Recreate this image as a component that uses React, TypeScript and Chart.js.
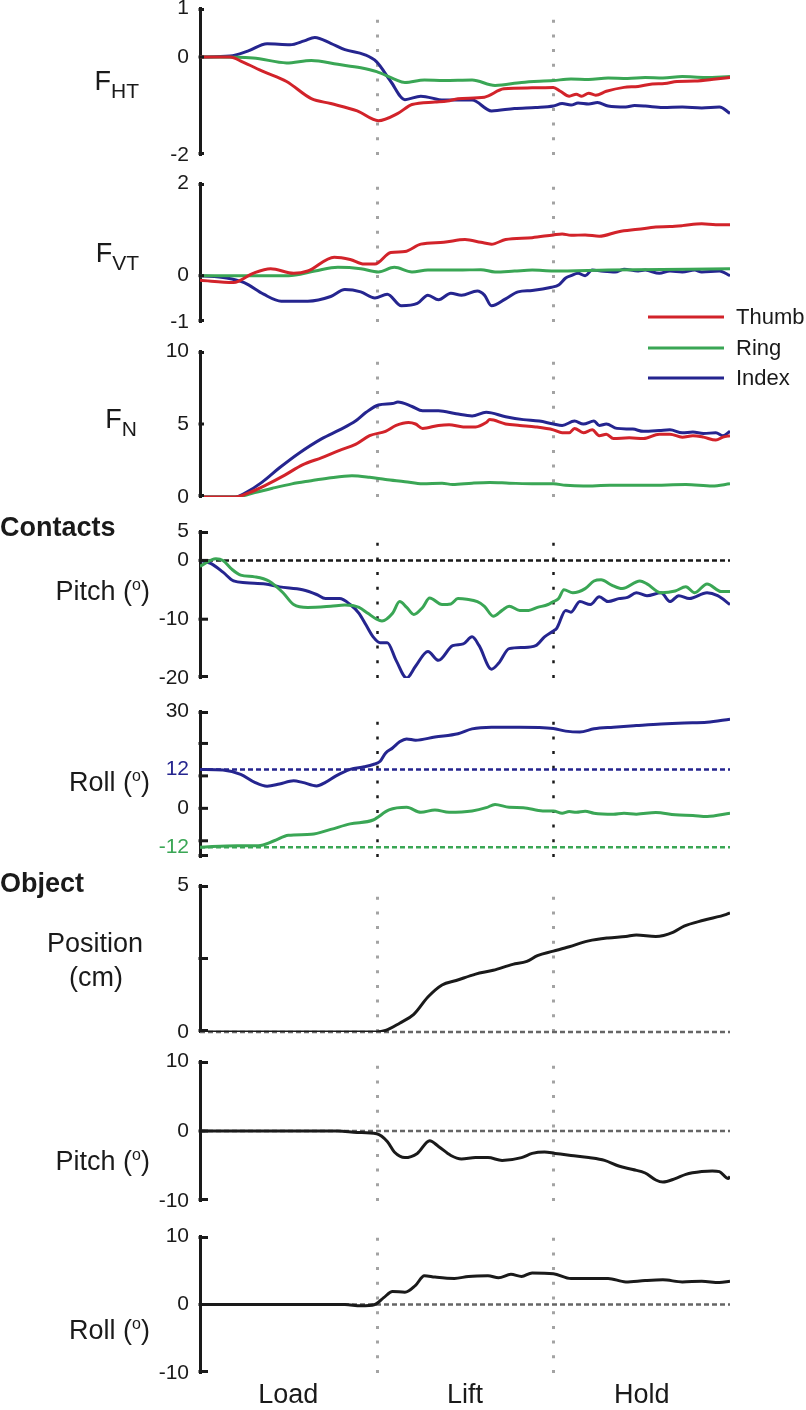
import React, { useEffect, useRef } from 'react';
import { Chart, registerables } from 'chart.js';

Chart.register(...registerables);

type P = [number, number];

// ---------- data (time in phase units: 0..3, Load | Lift | Hold) ----------
const PHASES = ['Load', 'Lift', 'Hold'];
const PHASE_CENTERS = [0.5, 1.5, 2.5];
const PHASE_BOUNDS = [1, 2];
const LEGEND_LABELS = ['Thumb', 'Ring', 'Index'];

const FHT_THUMB: P[] = [[0,0],[0.17,0],[0.24,-0.1],[0.36,-0.3],[0.49,-0.5],[0.63,-0.85],[0.74,-0.95],[0.89,-1.1],[1.01,-1.3],[1.12,-1.15],[1.2,-0.97],[1.33,-0.92],[1.4,-0.9],[1.46,-0.85],[1.61,-0.82],[1.72,-0.65],[1.88,-0.63],[2.0,-0.62],[2.04,-0.7],[2.09,-0.8],[2.13,-0.76],[2.16,-0.8],[2.2,-0.74],[2.24,-0.78],[2.3,-0.7],[2.4,-0.62],[2.48,-0.6],[2.56,-0.55],[2.63,-0.54],[2.7,-0.5],[2.8,-0.49],[2.92,-0.45],[3.0,-0.42]];
const FHT_RING: P[] = [[0,0],[0.3,-0.02],[0.49,-0.12],[0.63,-0.07],[0.78,-0.15],[0.91,-0.22],[1.0,-0.3],[1.1,-0.45],[1.16,-0.52],[1.27,-0.47],[1.38,-0.48],[1.54,-0.47],[1.67,-0.58],[1.82,-0.52],[2.0,-0.48],[2.1,-0.45],[2.2,-0.46],[2.31,-0.43],[2.42,-0.44],[2.52,-0.42],[2.62,-0.43],[2.73,-0.4],[2.86,-0.42],[3.0,-0.4]];
const FHT_INDEX: P[] = [[0,0],[0.17,0.02],[0.27,0.12],[0.38,0.27],[0.51,0.25],[0.59,0.33],[0.65,0.4],[0.74,0.28],[0.82,0.15],[0.93,0.05],[1.0,-0.1],[1.08,-0.5],[1.16,-0.87],[1.25,-0.8],[1.38,-0.88],[1.54,-0.88],[1.65,-1.1],[1.78,-1.05],[1.9,-1.03],[2.0,-1.0],[2.05,-0.95],[2.1,-0.98],[2.14,-0.94],[2.2,-0.96],[2.25,-0.93],[2.31,-1.0],[2.41,-1.02],[2.46,-0.99],[2.52,-1.0],[2.62,-1.03],[2.73,-1.02],[2.84,-1.04],[2.94,-1.02],[3.0,-1.15]];

const FVT_THUMB: P[] = [[0,-0.1],[0.19,-0.15],[0.3,0.05],[0.4,0.15],[0.53,0.05],[0.61,0.1],[0.76,0.4],[0.85,0.35],[0.93,0.25],[0.99,0.25],[1.08,0.5],[1.16,0.52],[1.25,0.68],[1.38,0.72],[1.5,0.78],[1.59,0.72],[1.65,0.68],[1.73,0.78],[1.88,0.82],[2.0,0.88],[2.05,0.9],[2.1,0.87],[2.18,0.88],[2.26,0.85],[2.37,0.95],[2.48,1.0],[2.58,1.05],[2.66,1.06],[2.73,1.08],[2.84,1.12],[2.92,1.1],[3.0,1.1]];
const FVT_RING: P[] = [[0,0],[0.5,0],[0.65,0.1],[0.78,0.18],[0.91,0.15],[1.01,0.08],[1.1,0.18],[1.2,0.08],[1.29,0.12],[1.46,0.12],[1.59,0.13],[1.67,0.08],[1.78,0.1],[1.88,0.12],[2.0,0.1],[2.31,0.12],[3.0,0.15]];
const FVT_INDEX: P[] = [[0,0],[0.15,-0.05],[0.25,-0.15],[0.36,-0.4],[0.46,-0.55],[0.61,-0.55],[0.74,-0.45],[0.82,-0.3],[0.91,-0.35],[0.99,-0.48],[1.06,-0.4],[1.14,-0.65],[1.23,-0.6],[1.29,-0.42],[1.35,-0.52],[1.42,-0.38],[1.48,-0.42],[1.57,-0.33],[1.61,-0.42],[1.65,-0.65],[1.73,-0.5],[1.8,-0.35],[1.88,-0.32],[1.99,-0.25],[2.03,-0.2],[2.07,-0.05],[2.1,0.0],[2.14,0.05],[2.18,0.0],[2.22,0.12],[2.27,0.1],[2.35,0.08],[2.4,0.14],[2.48,0.1],[2.52,0.12],[2.6,0.05],[2.66,0.1],[2.73,0.08],[2.8,0.12],[2.84,0.08],[2.94,0.1],[3.0,0.0]];

const FN_THUMB: P[] = [[0,0],[0.2,0],[0.28,0.3],[0.37,0.8],[0.48,1.5],[0.58,2.2],[0.69,2.7],[0.79,3.2],[0.88,3.6],[0.96,4.2],[1.05,4.5],[1.11,4.9],[1.18,5.1],[1.22,5.0],[1.26,4.7],[1.35,4.9],[1.41,4.95],[1.49,4.8],[1.56,4.8],[1.62,5.1],[1.64,5.3],[1.73,5.0],[1.81,4.9],[1.9,4.8],[2.0,4.6],[2.05,4.4],[2.09,4.4],[2.12,4.7],[2.17,4.4],[2.22,4.6],[2.26,4.2],[2.3,4.3],[2.34,4.0],[2.43,4.05],[2.51,4.0],[2.6,4.3],[2.66,4.3],[2.73,4.1],[2.79,4.2],[2.85,4.1],[2.92,3.9],[2.96,4.1],[3.0,4.2]];
const FN_RING: P[] = [[0,0],[0.2,0],[0.31,0.3],[0.41,0.6],[0.52,0.9],[0.62,1.1],[0.73,1.3],[0.86,1.45],[0.96,1.35],[1.05,1.2],[1.16,1.05],[1.26,0.9],[1.37,0.95],[1.43,0.85],[1.54,0.95],[1.64,1.0],[1.75,0.95],[1.9,0.9],[2.0,0.9],[2.07,0.8],[2.17,0.75],[2.32,0.8],[2.54,0.8],[2.75,0.85],[2.9,0.75],[3.0,0.9]];
const FN_INDEX: P[] = [[0,0],[0.2,0],[0.26,0.3],[0.35,1.0],[0.45,2.0],[0.56,3.0],[0.69,4.0],[0.79,4.6],[0.88,5.2],[0.94,5.8],[1.01,6.3],[1.09,6.4],[1.12,6.5],[1.2,6.2],[1.26,5.9],[1.35,5.9],[1.45,5.7],[1.54,5.55],[1.62,5.8],[1.73,5.5],[1.83,5.3],[1.92,5.2],[2.0,5.0],[2.05,4.9],[2.12,5.2],[2.17,5.0],[2.23,5.2],[2.26,4.9],[2.3,5.0],[2.36,4.7],[2.45,4.65],[2.51,4.5],[2.6,4.55],[2.66,4.6],[2.73,4.4],[2.79,4.45],[2.85,4.35],[2.92,4.4],[2.96,4.2],[3.0,4.5]];

const CPITCH_RING: P[] = [[0,-1],[0.09,0.3],[0.13,0],[0.18,-1.5],[0.23,-2.5],[0.31,-2.8],[0.39,-3.5],[0.47,-5.5],[0.53,-7.5],[0.61,-8],[0.74,-7.8],[0.82,-7.6],[0.9,-8],[0.95,-9],[1.0,-10],[1.03,-10.3],[1.09,-9],[1.13,-7],[1.17,-8],[1.21,-9.2],[1.26,-8],[1.3,-6.4],[1.37,-7.5],[1.42,-7.4],[1.46,-6.5],[1.51,-6.6],[1.57,-7],[1.61,-7.8],[1.66,-9.5],[1.71,-8.5],[1.75,-7.8],[1.81,-8.5],[1.86,-8.5],[1.91,-8],[1.97,-7.5],[2.0,-7],[2.03,-6.5],[2.06,-5],[2.11,-5.5],[2.18,-4.8],[2.23,-3.5],[2.27,-3.3],[2.33,-4.2],[2.39,-4.8],[2.49,-3.5],[2.53,-4],[2.61,-5.5],[2.69,-5.2],[2.75,-4.5],[2.8,-5.5],[2.87,-4],[2.95,-5.3],[3.0,-5.3]];
const CPITCH_INDEX: P[] = [[0,0],[0.06,-0.5],[0.13,-2],[0.19,-3.5],[0.26,-3.8],[0.37,-4],[0.45,-4.5],[0.58,-5],[0.66,-5.8],[0.71,-6.5],[0.79,-6.5],[0.85,-7.5],[0.9,-9],[0.94,-11],[0.98,-13],[1.02,-14],[1.06,-14],[1.11,-17],[1.17,-20],[1.22,-18],[1.29,-15.5],[1.35,-17],[1.43,-14.5],[1.49,-14.2],[1.54,-13],[1.58,-14.5],[1.65,-18.5],[1.69,-17.5],[1.75,-15],[1.83,-14.8],[1.9,-14.5],[1.95,-13],[2.0,-12],[2.02,-11.5],[2.07,-8.5],[2.1,-8.8],[2.15,-7],[2.21,-7.5],[2.26,-6.2],[2.31,-7],[2.37,-6.5],[2.42,-6.3],[2.47,-5.5],[2.53,-6],[2.61,-5.5],[2.66,-7],[2.71,-6],[2.77,-6.5],[2.87,-5.5],[2.93,-6],[3.0,-7.5]];

const CROLL_RING: P[] = [[0,-12],[0.21,-11.5],[0.33,-11.5],[0.42,-10],[0.5,-8.3],[0.63,-8],[0.74,-6.5],[0.85,-4.8],[0.98,-3.6],[1.07,-0.5],[1.17,0.3],[1.25,-1.2],[1.33,-0.5],[1.41,-1.2],[1.54,-0.8],[1.62,0.2],[1.67,1.2],[1.75,0.3],[1.83,0.2],[1.94,-0.8],[2.0,-0.8],[2.05,-1.5],[2.09,-1.0],[2.13,-1.2],[2.18,-0.9],[2.23,-1.5],[2.34,-1.8],[2.4,-1.5],[2.47,-1.8],[2.58,-1.3],[2.69,-2],[2.79,-2.2],[2.87,-2.5],[3.0,-1.5]];
const CROLL_INDEX: P[] = [[0,12],[0.13,11.8],[0.23,10.5],[0.31,8],[0.38,6.8],[0.45,7.5],[0.53,8.5],[0.58,8],[0.66,6.9],[0.71,8],[0.77,10],[0.85,12],[0.93,12.8],[0.98,13.5],[1.02,14.5],[1.05,17],[1.09,18.6],[1.13,20.5],[1.17,21.4],[1.22,21],[1.33,22],[1.46,23],[1.54,24.5],[1.65,25],[1.81,25],[2.0,24.6],[2.07,23.8],[2.15,23.5],[2.23,24.5],[2.34,25],[2.47,25.5],[2.61,26],[2.74,26.3],[2.87,26.5],[3.0,27.5]];

const OBJ_POSITION: P[] = [[0,0],[1.0,0],[1.05,0.05],[1.13,0.3],[1.21,0.6],[1.29,1.19],[1.37,1.6],[1.45,1.75],[1.56,1.97],[1.66,2.1],[1.77,2.3],[1.85,2.4],[1.91,2.6],[2.0,2.75],[2.09,2.9],[2.2,3.1],[2.31,3.2],[2.41,3.25],[2.47,3.3],[2.58,3.25],[2.68,3.4],[2.74,3.6],[2.85,3.8],[2.98,4.0],[3.0,4.05]];
const OBJ_PITCH: P[] = [[0,0],[0.78,0],[0.89,-0.2],[1.0,-0.4],[1.06,-1.5],[1.1,-3],[1.16,-3.8],[1.23,-3.2],[1.3,-1.4],[1.35,-2.2],[1.42,-3.5],[1.48,-4],[1.56,-3.8],[1.63,-3.8],[1.71,-4.2],[1.82,-3.8],[1.88,-3.2],[1.95,-3.0],[2.01,-3.2],[2.1,-3.5],[2.2,-3.8],[2.29,-4.2],[2.37,-5],[2.45,-5.5],[2.52,-6],[2.58,-7],[2.62,-7.3],[2.69,-6.8],[2.75,-6.2],[2.84,-5.8],[2.9,-5.7],[2.94,-5.8],[2.99,-6.8],[3.0,-6.5]];
const OBJ_ROLL: P[] = [[0,0],[0.82,0],[0.91,-0.2],[0.99,0],[1.04,1],[1.09,1.9],[1.16,1.8],[1.22,2.8],[1.27,4.2],[1.33,4.0],[1.44,3.8],[1.52,4.1],[1.63,4.2],[1.69,3.9],[1.76,4.4],[1.82,4.1],[1.88,4.6],[2.0,4.5],[2.1,3.8],[2.2,3.8],[2.31,3.8],[2.41,3.3],[2.52,3.5],[2.62,3.6],[2.73,3.3],[2.84,3.4],[2.94,3.2],[3.0,3.4]];

// ---------- styling ----------
const RED = '#d2232a';
const GREEN = '#3aa655';
const BLUE = '#25258f';
const BLACK = '#1a1a1a';
const GRAY_DOT = '#a3a3a3';
const FONT = '"Liberation Sans", Arial, Helvetica, sans-serif';
const PAD_TOP = 40;
const PLOT_LEFT = 200;
const PLOT_RIGHT = 730;
const W = 806;

interface Run { t: string; f: number; dy?: number; bold?: boolean }
interface TextSpec { runs: Run[]; x: number; y: number; align: 'left' | 'right' | 'center' }
interface HLine { v: number; color: string }
interface PanelSpec {
  top: number; bottom: number; padBottom: number; min: number; max: number;
  labelTicks: number[]; tickColors?: Record<string, string>; marks: number[]; markLen: number;
  vColor: string; vWidth: number; hlines: HLine[];
  series: { data: P[]; color: string; label: string }[];
  texts: TextSpec[]; legend?: boolean; xAxis?: boolean;
}

const LABEL_F = 27;
const SUP = (): Run => ({ t: 'o', f: 16, dy: -10 });

const PANELS: PanelSpec[] = [
  {
    top: 8, bottom: 155, padBottom: 12, min: -2, max: 1, labelTicks: [1, 0, -2], marks: [1, 0, -2], markLen: 4,
    vColor: GRAY_DOT, vWidth: 3, hlines: [],
    series: [{ data: FHT_THUMB, color: RED, label: 'Thumb' }, { data: FHT_RING, color: GREEN, label: 'Ring' }, { data: FHT_INDEX, color: BLUE, label: 'Index' }],
    texts: [{ runs: [{ t: 'F', f: 27 }, { t: 'HT', f: 21, dy: 8 }], x: 139, y: 90, align: 'right' }],
  },
  {
    top: 183, bottom: 322, padBottom: 75, min: -1, max: 2, labelTicks: [2, 0, -1], marks: [2, 0, -1], markLen: 4,
    vColor: GRAY_DOT, vWidth: 3, hlines: [],
    series: [{ data: FVT_THUMB, color: RED, label: 'Thumb' }, { data: FVT_RING, color: GREEN, label: 'Ring' }, { data: FVT_INDEX, color: BLUE, label: 'Index' }],
    texts: [{ runs: [{ t: 'F', f: 27 }, { t: 'VT', f: 21, dy: 8 }], x: 139, y: 262, align: 'right' }],
    legend: true,
  },
  {
    top: 351, bottom: 497, padBottom: 12, min: 0, max: 10, labelTicks: [10, 5, 0], marks: [10, 5, 0], markLen: 4,
    vColor: GRAY_DOT, vWidth: 3, hlines: [],
    series: [{ data: FN_THUMB, color: RED, label: 'Thumb' }, { data: FN_RING, color: GREEN, label: 'Ring' }, { data: FN_INDEX, color: BLUE, label: 'Index' }],
    texts: [{ runs: [{ t: 'F', f: 27 }, { t: 'N', f: 21, dy: 8 }], x: 137, y: 428, align: 'right' }],
  },
  {
    top: 531, bottom: 678, padBottom: 12, min: -20, max: 5, labelTicks: [5, 0, -10, -20], marks: [5, 0, -10, -20], markLen: 8,
    vColor: BLACK, vWidth: 2.5, hlines: [{ v: 0, color: BLACK }],
    series: [{ data: CPITCH_RING, color: GREEN, label: 'Ring' }, { data: CPITCH_INDEX, color: BLUE, label: 'Index' }],
    texts: [
      { runs: [{ t: 'Contacts', f: 27, bold: true }], x: 0, y: 536, align: 'left' },
      { runs: [{ t: 'Pitch (', f: LABEL_F }, SUP(), { t: ')', f: LABEL_F }], x: 150, y: 600, align: 'right' },
    ],
  },
  {
    top: 711, bottom: 857, padBottom: 12, min: -15, max: 30, labelTicks: [30, 12, 0, -12], tickColors: { '12': BLUE, '-12': GREEN },
    marks: [30, 20, 10, 0, -10, -15], markLen: 8,
    vColor: BLACK, vWidth: 2.5, hlines: [{ v: 12, color: BLUE }, { v: -12, color: GREEN }],
    series: [{ data: CROLL_RING, color: GREEN, label: 'Ring' }, { data: CROLL_INDEX, color: BLUE, label: 'Index' }],
    texts: [{ runs: [{ t: 'Roll (', f: LABEL_F }, SUP(), { t: ')', f: LABEL_F }], x: 150, y: 791, align: 'right' }],
  },
  {
    top: 885, bottom: 1032, padBottom: 12, min: 0, max: 5, labelTicks: [5, 0], marks: [5, 2.5, 0], markLen: 8,
    vColor: GRAY_DOT, vWidth: 3, hlines: [{ v: 0, color: '#666666' }],
    series: [{ data: OBJ_POSITION, color: BLACK, label: 'Position' }],
    texts: [
      { runs: [{ t: 'Object', f: 27, bold: true }], x: 0, y: 892, align: 'left' },
      { runs: [{ t: 'Position', f: LABEL_F }], x: 95, y: 952, align: 'center' },
      { runs: [{ t: '(cm)', f: LABEL_F }], x: 96, y: 986, align: 'center' },
    ],
  },
  {
    top: 1061, bottom: 1201, padBottom: 12, min: -10, max: 10, labelTicks: [10, 0, -10], marks: [10, 0, -10], markLen: 8,
    vColor: GRAY_DOT, vWidth: 3, hlines: [{ v: 0, color: '#666666' }],
    series: [{ data: OBJ_PITCH, color: BLACK, label: 'Pitch' }],
    texts: [{ runs: [{ t: 'Pitch (', f: LABEL_F }, SUP(), { t: ')', f: LABEL_F }], x: 150, y: 1170, align: 'right' }],
  },
  {
    top: 1236, bottom: 1373, padBottom: 0, min: -10, max: 10, labelTicks: [10, 0, -10], marks: [10, 0, -10], markLen: 8,
    vColor: GRAY_DOT, vWidth: 3, hlines: [{ v: 0, color: '#666666' }],
    series: [{ data: OBJ_ROLL, color: BLACK, label: 'Roll' }],
    texts: [{ runs: [{ t: 'Roll (', f: LABEL_F }, SUP(), { t: ')', f: LABEL_F }], x: 150, y: 1339, align: 'right' }],
    xAxis: true,
  },
];

const X_AXIS_H = 37;

function canvasHeight(p: PanelSpec) {
  return PAD_TOP + (p.bottom - p.top) + p.padBottom + (p.xAxis ? X_AXIS_H : 0);
}

function drawRuns(ctx: CanvasRenderingContext2D, spec: TextSpec, offY: number) {
  ctx.save();
  ctx.fillStyle = '#1a1a1a';
  ctx.textBaseline = 'alphabetic';
  ctx.textAlign = 'left';
  const fontOf = (r: Run) => `${r.bold ? 'bold ' : ''}${r.f}px ${FONT}`;
  let total = 0;
  const widths = spec.runs.map((r) => {
    ctx.font = fontOf(r);
    const w = ctx.measureText(r.t).width;
    total += w;
    return w;
  });
  let x = spec.align === 'left' ? spec.x : spec.align === 'right' ? spec.x - total : spec.x - total / 2;
  spec.runs.forEach((r, i) => {
    ctx.font = fontOf(r);
    ctx.fillText(r.t, x, spec.y - offY + (r.dy || 0));
    x += widths[i];
  });
  ctx.restore();
}

function makeDecor(p: PanelSpec) {
  const offY = p.top - PAD_TOP;
  return {
    id: 'panelDecor',
    beforeDatasetsDraw(chart: any) {
      const { ctx, chartArea } = chart;
      const xs = chart.scales.x;
      const ys = chart.scales.y;
      ctx.save();
      ctx.strokeStyle = p.vColor;
      ctx.lineWidth = p.vWidth;
      ctx.setLineDash([3, 11.7]);
      PHASE_BOUNDS.forEach((b) => {
        const x = Math.round(xs.getPixelForValue(b)) + 0.5;
        ctx.beginPath();
        ctx.moveTo(x, chartArea.bottom);
        ctx.lineTo(x, chartArea.top);
        ctx.stroke();
      });
      ctx.lineWidth = 2.5;
      ctx.setLineDash([5, 3]);
      p.hlines.forEach((h) => {
        const y = ys.getPixelForValue(h.v);
        ctx.strokeStyle = h.color;
        ctx.beginPath();
        ctx.moveTo(chartArea.left, y);
        ctx.lineTo(chartArea.right, y);
        ctx.stroke();
      });
      ctx.restore();
    },
    afterDraw(chart: any) {
      const { ctx, chartArea } = chart;
      const ys = chart.scales.y;
      ctx.save();
      ctx.strokeStyle = '#1a1a1a';
      ctx.lineWidth = 3;
      ctx.setLineDash([]);
      p.marks.forEach((m) => {
        let y = ys.getPixelForValue(m);
        if (m === p.max) y += 1.5;
        if (m === p.min) y -= 1.5;
        ctx.beginPath();
        ctx.moveTo(chartArea.left - 1.5, y);
        ctx.lineTo(chartArea.left + p.markLen, y);
        ctx.stroke();
      });
      ctx.restore();
      p.texts.forEach((t) => drawRuns(ctx, t, offY));
      if (p.legend) {
        const ds = chart.data.datasets;
        const rowsY = [317, 348, 378];
        ctx.save();
        ds.forEach((d: any, i: number) => {
          const y = rowsY[i] - offY;
          ctx.strokeStyle = d.borderColor;
          ctx.lineWidth = 3;
          ctx.beginPath();
          ctx.moveTo(648, y);
          ctx.lineTo(724, y);
          ctx.stroke();
          ctx.fillStyle = '#1a1a1a';
          ctx.font = `22px ${FONT}`;
          ctx.textBaseline = 'middle';
          ctx.textAlign = 'left';
          ctx.fillText(LEGEND_LABELS[i], 736, y + 1);
        });
        ctx.restore();
      }
    },
  };
}

function buildChart(canvas: HTMLCanvasElement, p: PanelSpec) {
  const xScale: any = p.xAxis
    ? {
        type: 'linear', min: 0, max: 3, display: true,
        grid: { display: false, drawTicks: false }, border: { display: false },
        afterBuildTicks: (s: any) => { s.ticks = PHASE_CENTERS.map((v) => ({ value: v })); },
        ticks: {
          autoSkip: false, maxRotation: 0, padding: 6, color: '#1a1a1a',
          font: { family: FONT, size: 27 },
          callback: (v: any) => PHASES[PHASE_CENTERS.indexOf(Number(v))] ?? '',
        },
        afterFit: (s: any) => { s.height = X_AXIS_H; s.paddingLeft = 0; s.paddingRight = 0; },
      }
    : { type: 'linear', min: 0, max: 3, display: false };

  return new Chart(canvas, {
    type: 'line',
    data: {
      datasets: p.series.map((s) => ({
        label: s.label,
        data: s.data.map(([x, y]) => ({ x, y })),
        borderColor: s.color,
        backgroundColor: s.color,
        borderWidth: 3,
        pointRadius: 0,
        fill: false,
        cubicInterpolationMode: 'monotone' as const,
      })),
    },
    options: {
      responsive: false,
      animation: false,
      events: [],
      layout: { padding: { left: 0, right: W - PLOT_RIGHT, top: PAD_TOP, bottom: p.padBottom } },
      plugins: { legend: { display: false }, tooltip: { enabled: false } },
      scales: {
        x: xScale,
        y: {
          type: 'linear', min: p.min, max: p.max, position: 'left',
          grid: { display: false, drawTicks: false },
          border: { display: true, color: '#1a1a1a', width: 3 },
          afterBuildTicks: (s: any) => { s.ticks = p.labelTicks.map((v) => ({ value: v })); },
          afterFit: (s: any) => { s.width = PLOT_LEFT; s.paddingTop = 0; s.paddingBottom = 0; },
          ticks: {
            autoSkip: false, padding: 11,
            font: { family: FONT, size: 21 },
            color: (c: any) => (p.tickColors && p.tickColors[String(c.tick.value)]) || '#1a1a1a',
            callback: (v: any) => String(v),
          },
        },
      },
    } as any,
    plugins: [makeDecor(p)],
  });
}

export default function App() {
  const refs = useRef<(HTMLCanvasElement | null)[]>([]);
  useEffect(() => {
    const charts = PANELS.map((p, i) => buildChart(refs.current[i] as HTMLCanvasElement, p));
    return () => charts.forEach((c) => c.destroy());
  }, []);
  return (
    <div style={{ position: 'absolute', left: 0, top: 0, width: W, height: 1410, background: '#fff', overflow: 'hidden' }}>
      {PANELS.map((p, i) => (
        <canvas
          key={i}
          ref={(el) => { refs.current[i] = el; }}
          width={W}
          height={canvasHeight(p)}
          style={{ position: 'absolute', left: 0, top: p.top - PAD_TOP, width: W, height: canvasHeight(p) }}
        />
      ))}
    </div>
  );
}
